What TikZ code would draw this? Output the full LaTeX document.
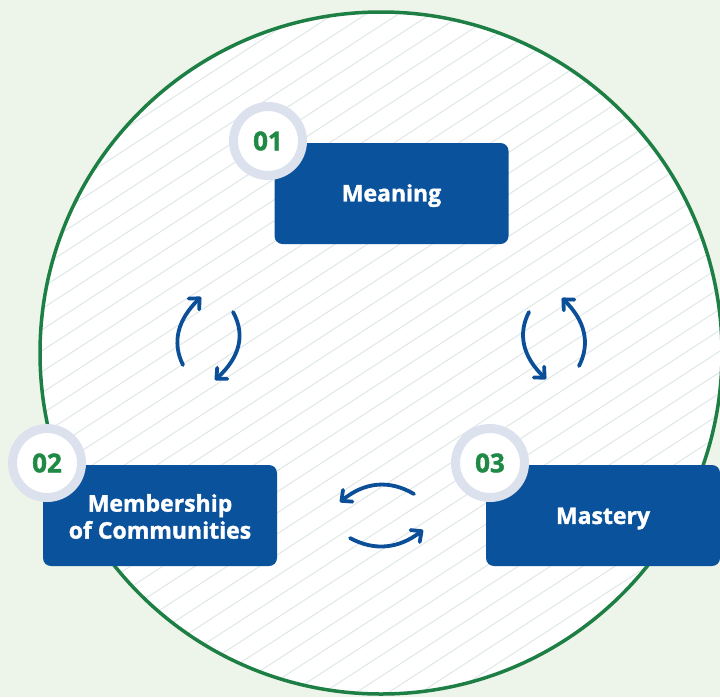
\documentclass[tikz,border=0pt]{standalone}
\usepackage{fontspec}
\setmainfont{Open Sans}[BoldFeatures={FakeBold=1.5}]
\usetikzlibrary{arrows.meta}
\definecolor{bgc}{HTML}{EDF4EA}
\definecolor{ringgreen}{HTML}{1E7F45}
\definecolor{hatchc}{HTML}{E1EAE8}
\definecolor{boxblue}{HTML}{0B529C}
\definecolor{ringc}{HTML}{DCE1EE}
\definecolor{numgreen}{HTML}{1F8A45}
\definecolor{arrowblue}{HTML}{0B4F99}
\tikzset{
  stepbox/.style={rectangle, rounded corners=8pt, fill=boxblue, text=white,
    minimum width=234pt, minimum height=101pt, inner sep=0pt, align=center,
    font=\fontsize{23pt}{27pt}\selectfont\bfseries},
  boxtext/.style={text=white, align=center, inner sep=0pt,
    font=\fontsize{23pt}{27pt}\selectfont\bfseries},
  badge/.style={circle, fill=white, draw=ringc, line width=9pt, minimum size=69pt,
    inner sep=0pt, text=numgreen, font=\fontsize{26pt}{30pt}\selectfont\bfseries},
  hatch/.style={draw=hatchc, line width=1.1pt},
  cyc/.style={draw=arrowblue, line width=3.8pt, line cap=round,
    -{Straight Barb[length=8pt, width=15pt, line cap=round, line join=round]}}
}
\begin{document}
\begin{tikzpicture}[x=1pt,y=-1pt]
\useasboundingbox (0,0) rectangle (720,697);
\fill[bgc] (0,0) rectangle (720,697);
\coordinate (cc) at (381,353);
\fill[white] (cc) circle[radius=341];
\begin{scope}
  \clip (cc) circle[radius=341];
  \foreach \i in {0,...,60}{
    \draw[hatch] (0,\i*21) -- (720,\i*21-468);
  }
\end{scope}
\draw[ringgreen, line width=3.5pt] (cc) circle[radius=341];

% boxes
\node[stepbox] (meaning) at (391.5,193.5) {};
\node[stepbox] (member) at (160,515.5) {};
\node[stepbox] (mastery) at (603,515.5) {};
\node[boxtext] (tmeaning) at ([yshift=-2pt]meaning.center) {Meaning};
\node[boxtext] (tmember) at ([yshift=-1pt]member.center) {Membership\\of Communities};
\node[boxtext] (tmastery) at ([yshift=-3pt]mastery.center) {Mastery};

% badges
\node[badge] (b1) at (268,141) {01};
\node[badge] (b2) at (47,463) {02};
\node[badge] (b3) at (490,463) {03};

% cycle arrows
\coordinate (l1s) at (183,365); \coordinate (l1a) at (171.7,342.3); \coordinate (l1b) at (177.7,319.7); \coordinate (l1e) at (201,297);
\coordinate (l2s) at (233,312); \coordinate (l2a) at (245.7,334.7); \coordinate (l2b) at (239.7,357.3); \coordinate (l2e) at (215,380);
\coordinate (r1s) at (529,312); \coordinate (r1a) at (517.4,334.3); \coordinate (r1b) at (523,356.7); \coordinate (r1e) at (546,379);
\coordinate (r2s) at (579,366); \coordinate (r2a) at (590.6,343.3); \coordinate (r2b) at (585,320.7); \coordinate (r2e) at (562,298);
\coordinate (d1s) at (414,494); \coordinate (d1a) at (389.3,479.4); \coordinate (d1b) at (364.7,482); \coordinate (d1e) at (340,502);
\coordinate (d2s) at (350,538); \coordinate (d2a) at (374.3,551.3); \coordinate (d2b) at (398.7,548.7); \coordinate (d2e) at (423,530);
\draw[cyc] (l1s) .. controls (l1a) and (l1b) .. (l1e);
\draw[cyc] (l2s) .. controls (l2a) and (l2b) .. (l2e);
\draw[cyc] (r1s) .. controls (r1a) and (r1b) .. (r1e);
\draw[cyc] (r2s) .. controls (r2a) and (r2b) .. (r2e);
\draw[cyc] (d1s) .. controls (d1a) and (d1b) .. (d1e);
\draw[cyc] (d2s) .. controls (d2a) and (d2b) .. (d2e);
\end{tikzpicture}
\end{document}
